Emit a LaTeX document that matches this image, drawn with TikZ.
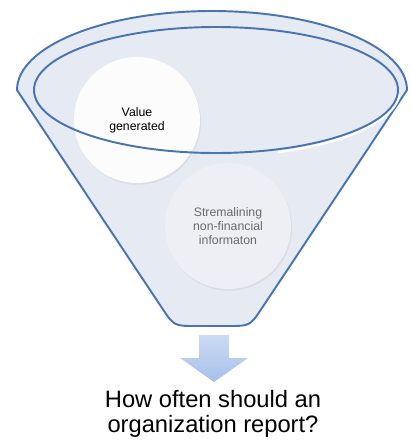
\documentclass[tikz,border=0pt]{standalone}
\usepackage{fontspec}
\setmainfont{Liberation Sans}
\usepackage{tikz}
\usetikzlibrary{positioning,shadows}
\definecolor{funnelfill}{HTML}{E6EAF2}
\definecolor{funnelline}{HTML}{4874B4}
\definecolor{bubblegrey}{HTML}{EDEFF4}
\definecolor{arrowtop}{HTML}{CCDBF4}
\definecolor{arrowbot}{HTML}{A6C0EA}
\definecolor{softtext}{HTML}{6A6A6A}
\tikzset{
  funnel/.style={
    fill=funnelfill,
    draw=funnelline, line width=1.1pt},
  rim/.style={draw=funnelline, line width=1.1pt},
  glint/.style={draw=white, line width=1.4pt, line cap=round},
  bubble/.style={
    circle,
    minimum size=2.52cm,
    inner sep=0pt,
    align=center,
    font=\fontsize{7}{8}\selectfont,
    drop shadow={opacity=.12, shadow xshift=.6pt, shadow yshift=-1pt}},
  question/.style={align=center, inner sep=0pt, font=\fontsize{13.5}{14.2}\selectfont},
}
\begin{document}
\begin{tikzpicture}[x=0.02cm, y=-0.02cm]
  \useasboundingbox (0,0) rectangle (411,441);
  % funnel body
  \path[funnel] (17,90) arc[start angle=180, end angle=360, x radius=195, y radius=79]
    -- (262,308) .. controls (250,326) .. (228,326) -- (196,326)
    .. controls (174,326) .. (162,308) -- cycle;
  \draw[glint] (216,90) ++(5:184 and 66) arc[start angle=5, end angle=70, x radius=184, y radius=66];
  % bubbles
  \node[bubble, fill=white, fill opacity=.92, text opacity=1] (value) at (137,120) {Value\\generated};
  \node[bubble, fill=bubblegrey, text=softtext] (streamline) at (228,226) {Stremalining\\non-financial\\informaton};
  % inner rim
  \draw[rim] (216,90) ellipse[x radius=182, y radius=63];
  % down arrow
  \shade[top color=arrowtop, bottom color=arrowbot]
    (199,335) -- (229,335) -- (229,358) -- (248,358) -- (214,382) -- (180,358) -- (199,358) -- cycle;
  \node[question] (question) at (213,414) {How often should an\\organization report?};
\end{tikzpicture}
\end{document}
